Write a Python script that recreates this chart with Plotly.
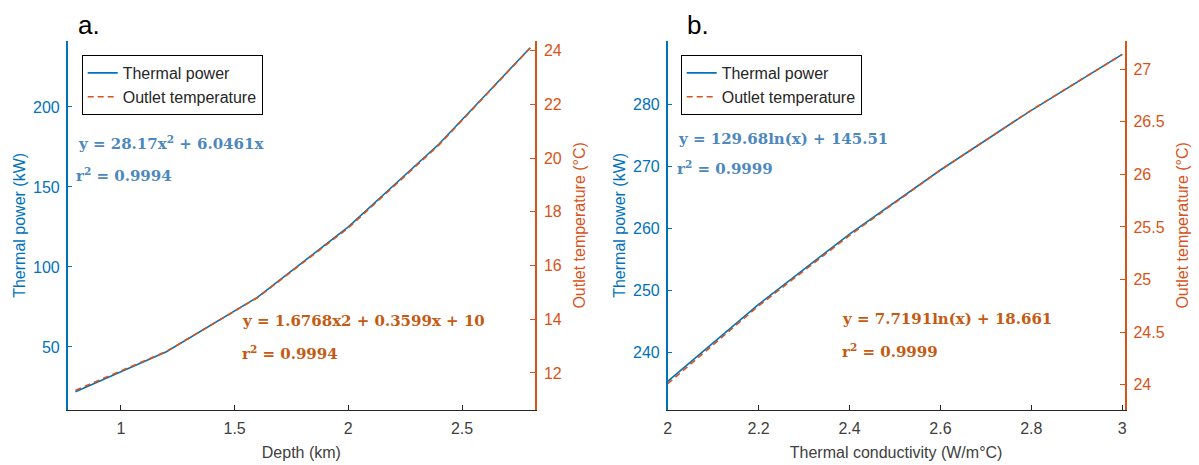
import plotly.graph_objects as go

W, H = 1199, 465

# ---------------- data ----------------
depth_km = [0.8, 1.2, 1.6, 2.0, 2.4, 2.8]
power_a_kw = [22.0, 47.0, 81.0, 125.0, 177.0, 237.0]
temp_a_c = [11.35, 12.8, 14.8, 17.4, 20.5, 24.1]

conductivity = [2.0, 2.2, 2.4, 2.6, 2.8, 3.0]
power_b_kw = [235.4, 247.8, 259.1, 269.4, 279.0, 288.0]
temp_b_c = [24.01, 24.75, 25.42, 26.04, 26.61, 27.14]

xticks_a = [1, 1.5, 2, 2.5]
yticks_a_left = [50, 100, 150, 200]
yticks_a_right = [12, 14, 16, 18, 20, 22, 24]
xticks_b = [2, 2.2, 2.4, 2.6, 2.8, 3]
yticks_b_left = [240, 250, 260, 270, 280]
yticks_b_right = [24, 24.5, 25, 25.5, 26, 26.5, 27]

BLUE = "#0072BD"
ORANGE = "#D95319"
DARK = "#262626"
ANN_BLUE = "#4d88bd"
ANN_ORANGE = "#c55a11"
FONT = "Liberation Sans, Arial, sans-serif"
SERIF = "DejaVu Serif, serif"


def px(x):
    return x / W


def py(y):
    return 1 - y / H


ydom = [py(410), py(40.7)]
xdom_a = [px(67.7), px(535)]
xdom_b = [px(667.7), px(1124.5)]

fig = go.Figure()

# Panel a
fig.add_trace(go.Scatter(x=depth_km, y=power_a_kw, mode="lines", name="Thermal power",
                         line=dict(color=BLUE, width=1.6), xaxis="x", yaxis="y", legend="legend"))
fig.add_trace(go.Scatter(x=depth_km, y=temp_a_c, mode="lines", name="Outlet temperature",
                         line=dict(color=ORANGE, width=1.6, dash="6px,4px"), xaxis="x", yaxis="y2",
                         legend="legend"))
# Panel b
fig.add_trace(go.Scatter(x=conductivity, y=power_b_kw, mode="lines", name="Thermal power",
                         line=dict(color=BLUE, width=1.6), xaxis="x2", yaxis="y3", legend="legend2"))
fig.add_trace(go.Scatter(x=conductivity, y=temp_b_c, mode="lines", name="Outlet temperature",
                         line=dict(color=ORANGE, width=1.6, dash="6px,4px"), xaxis="x2", yaxis="y4",
                         legend="legend2"))


def xax(domain, rng, ticks, title, anchor):
    return dict(domain=domain, range=rng, tickvals=ticks, ticks="inside", ticklen=5,
                tickcolor=DARK, showline=True, linecolor=DARK, linewidth=1.2,
                showgrid=False, zeroline=False, anchor=anchor, automargin=False,
                ticklabelstandoff=4,
                tickfont=dict(family=FONT, size=16, color="#404040"),
                title=dict(text=title, font=dict(family=FONT, size=16, color="#404040"), standoff=10))


def yax(rng, ticks, title, color, anchor, side="left", overlaying=None):
    left = side == "left"
    d = dict(domain=ydom, range=rng, tickvals=ticks, ticks="inside", ticklen=5,
             tickcolor=color, showline=True, linecolor=color, linewidth=1.5,
             showgrid=False, zeroline=False, anchor=anchor, side=side, automargin=False,
             ticklabelstandoff=3 if left else 4,
             tickfont=dict(family=FONT, size=16, color=color),
             title=dict(text=title, font=dict(family=FONT, size=16, color=color),
                        standoff=3 if left else 13))
    if overlaying:
        d["overlaying"] = overlaying
    return d


legend_common = dict(xanchor="left", yanchor="top", bgcolor="white", bordercolor="black",
                     borderwidth=1, font=dict(family=FONT, size=16, color=DARK),
                     tracegroupgap=0)

annotations = [
    dict(text="a.", x=px(76), y=py(25), font=dict(family=FONT, size=26, color="black")),
    dict(text="b.", x=px(685), y=py(25), font=dict(family=FONT, size=26, color="black")),
    dict(text="y = 28.17x<sup>2</sup> + 6.0461x", x=px(76), y=py(142.7),
         font=dict(family=SERIF, size=15, color=ANN_BLUE, weight="bold")),
    dict(text="r<sup>2</sup> = 0.9994", x=px(74), y=py(175),
         font=dict(family=SERIF, size=15, color=ANN_BLUE, weight="bold")),
    dict(text="y = 1.6768x2 + 0.3599x + 10", x=px(240), y=py(321),
         font=dict(family=SERIF, size=15, color=ANN_ORANGE, weight="bold")),
    dict(text="r<sup>2</sup> = 0.9994", x=px(240), y=py(352.7),
         font=dict(family=SERIF, size=15, color=ANN_ORANGE, weight="bold")),
    dict(text="y = 129.68ln(x) + 145.51", x=px(676), y=py(139),
         font=dict(family=SERIF, size=15, color=ANN_BLUE, weight="bold")),
    dict(text="r<sup>2</sup> = 0.9999", x=px(675), y=py(168),
         font=dict(family=SERIF, size=15, color=ANN_BLUE, weight="bold")),
    dict(text="y = 7.7191ln(x) + 18.661", x=px(840), y=py(319),
         font=dict(family=SERIF, size=15, color=ANN_ORANGE, weight="bold")),
    dict(text="r<sup>2</sup> = 0.9999", x=px(840), y=py(351),
         font=dict(family=SERIF, size=15, color=ANN_ORANGE, weight="bold")),
]
for a in annotations:
    a.update(xref="paper", yref="paper", xanchor="left", yanchor="middle", showarrow=False)

fig.update_layout(
    width=W, height=H,
    margin=dict(l=0, r=0, t=0, b=0),
    paper_bgcolor="white", plot_bgcolor="white",
    font=dict(family=FONT, size=16, color=DARK),
    showlegend=True,
    xaxis=xax(xdom_a, [0.766, 2.821], xticks_a, "Depth (km)", "y"),
    yaxis=yax([10.6, 241.4], yticks_a_left, "Thermal power (kW)", BLUE, "x"),
    yaxis2=yax([10.62, 24.37], yticks_a_right, "Outlet temperature (°C)", ORANGE, "x",
               side="right", overlaying="y"),
    xaxis2=xax(xdom_b, [2.0, 3.005], xticks_b, "Thermal conductivity (W/m°C)", "y3"),
    yaxis3=yax([230.8, 290.2], yticks_b_left, "Thermal power (kW)", BLUE, "x2"),
    yaxis4=yax([23.76, 27.27], yticks_b_right, "Outlet temperature (°C)", ORANGE, "x2",
               side="right", overlaying="y3"),
    legend=dict(x=px(81.7), y=py(55), **legend_common),
    legend2=dict(x=px(680.7), y=py(55), **legend_common),
    annotations=annotations,
)

fig.write_html("out.html")
